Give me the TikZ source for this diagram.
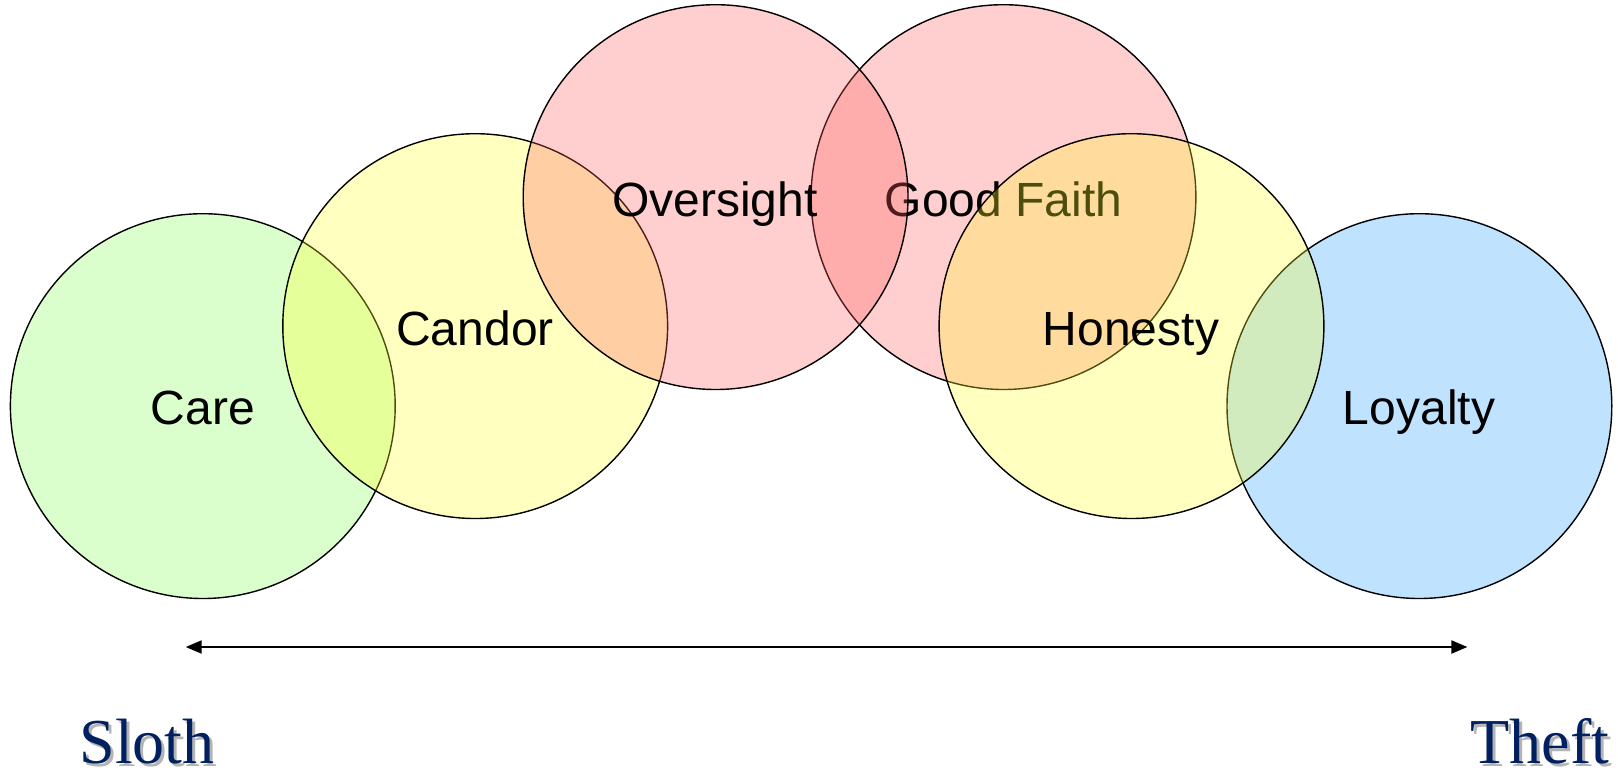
\documentclass[tikz,border=0pt]{standalone}
\usepackage{fontspec}
\setmainfont{Liberation Serif}
\setsansfont{Liberation Sans}
\usetikzlibrary{arrows.meta}
\definecolor{cgreen}{RGB}{138,255,88}
\definecolor{cyellow}{RGB}{255,255,45}
\definecolor{cpink}{RGB}{255,95,95}
\definecolor{cblue}{RGB}{45,165,252}
\definecolor{navy}{RGB}{0,32,96}
\definecolor{shade}{RGB}{180,180,180}
\begin{document}
\begin{tikzpicture}[x=0.5pt,y=-0.5pt,
  ring/.style={circle,draw=black,line width=0.7pt,fill opacity=0.3,draw opacity=1,inner sep=0pt,minimum size=192.4pt},
  lbl/.style={font=\sffamily\fontsize{24}{28}\selectfont,text=black,inner sep=0pt,anchor=base},
  ends/.style={font=\fontsize{32}{36}\selectfont,inner sep=0pt,anchor=base}]
\useasboundingbox (0,0) rectangle (1618,772);
\fill[white] (0,0) rectangle (1618,772);
% Good Faith circle and its label beneath neighbouring circles
\node[ring,fill=cpink] (cgf) at (1003.5,197.1) {};
\node[lbl] (tgf) at (1003.5,216) {Good Faith};
\node[ring,fill=cblue] (clo) at (1419.4,406.1) {};
\node[ring,fill=cgreen] (cca) at (202.8,406.1) {};
\node[ring,fill=cyellow] (ccn) at (475.2,326.1) {};
\node[ring,fill=cpink] (cov) at (715.6,197.1) {};
\node[ring,fill=cyellow] (cho) at (1131.5,326.1) {};
% labels
\node[lbl] (tca) at (203,424) {Care};
\node[lbl] (tcn) at (475,345) {Candor};
\node[lbl] (tov) at (715,216) {Oversight};
\node[lbl] (tho) at (1131,345) {Honesty};
\node[lbl] (tlo) at (1419,424) {Loyalty};
% arrow
\coordinate (al) at (185.7,647);
\coordinate (ar) at (1467.4,647);
\draw[line width=1pt,{Triangle[length=8pt,width=6.5pt]}-{Triangle[length=8pt,width=6.5pt]}] (al) -- (ar);
% end labels with shadow
\node[ends,text=shade] (sls) at (150,766) {Sloth};
\node[ends,text=navy] (sl) at (147,763) {Sloth};
\node[ends,text=shade] (ths) at (1543,766) {Theft};
\node[ends,text=navy] (th) at (1540,763) {Theft};
\end{tikzpicture}
\end{document}
